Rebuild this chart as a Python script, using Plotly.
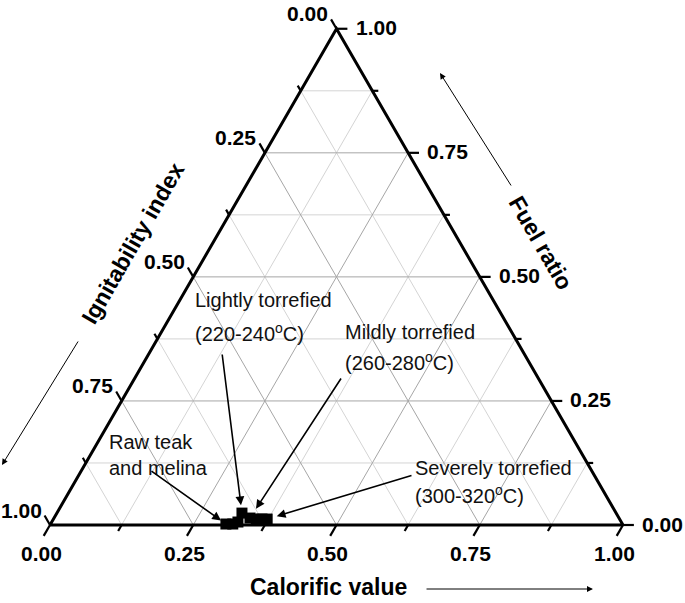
import math
import plotly.graph_objects as go

# ---------------- data (ternary fractions) ----------------
sample_groups = ["Raw", "Raw", "Lightly", "Lightly", "Mildly", "Mildly", "Severely", "Severely"]
fuel_ratio = [0.002, 0.002, 0.006, 0.024, 0.014, 0.012, 0.012, 0.012]
calorific_value = [0.306, 0.318, 0.325, 0.323, 0.342, 0.354, 0.364, 0.373]
ignitability_index = [0.692, 0.680, 0.669, 0.653, 0.644, 0.634, 0.624, 0.615]

major_ticks = [0.0, 0.25, 0.5, 0.75, 1.0]
major_tick_labels = ["0.00", "0.25", "0.50", "0.75", "1.00"]
minor_ticks = [0.125, 0.375, 0.625, 0.875]
grid_values = [0.125, 0.25, 0.375, 0.5, 0.625, 0.75, 0.875]

axis_titles = ["Ignitability index", "Fuel ratio", "Calorific value"]

# ---------------- helpers ----------------
H = math.sqrt(3) / 2
FONT = "Liberation Sans, Arial, Helvetica, sans-serif"


def xy(fuel, cal):
    """ternary (fuel ratio = top, calorific = bottom-right) -> cartesian"""
    return cal + fuel / 2.0, fuel * H


fig = go.Figure()


def add_lines(segs, color, width):
    xs, ys = [], []
    for (p, q) in segs:
        xs += [p[0], q[0], None]
        ys += [p[1], q[1], None]
    fig.add_trace(go.Scatter(x=xs, y=ys, mode="lines", hoverinfo="skip",
                             line=dict(color=color, width=width)))


# grid lines
minor_segs, major_segs = [], []
for v in grid_values:
    segs = major_segs if v in major_ticks else minor_segs
    segs.append((xy(v, 0), xy(v, 1 - v)))          # constant fuel ratio
    segs.append((xy(0, v), xy(1 - v, v)))          # constant calorific value
    segs.append((xy(1 - v, 0), xy(0, 1 - v)))      # constant ignitability index
add_lines(minor_segs, "#d4d4d4", 1)
add_lines(major_segs, "#a6a6a6", 1)

# ticks
tick_segs = []
dir_bottom = (-0.5 * 0.022, -H * 0.022)
dir_left = (-0.5 * 0.019, H * 0.019)
dir_right = (0.019, 0.0)
for v in major_ticks + minor_ticks:
    s = 1.0 if v in major_ticks else 0.55
    p = xy(0, v)
    tick_segs.append((p, (p[0] + dir_bottom[0] * s, p[1] + dir_bottom[1] * s)))
    p = xy(1 - v, 0)
    tick_segs.append((p, (p[0] + dir_left[0] * s, p[1] + dir_left[1] * s)))
    p = xy(v, 1 - v)
    tick_segs.append((p, (p[0] + dir_right[0] * s, p[1] + dir_right[1] * s)))
add_lines(tick_segs, "black", 2.2)

# triangle frame
corners = [xy(0, 0), xy(0, 1), xy(1, 0), xy(0, 0)]
fig.add_trace(go.Scatter(x=[c[0] for c in corners], y=[c[1] for c in corners],
                         mode="lines", hoverinfo="skip",
                         line=dict(color="black", width=3)))

# data points
pts = [xy(f, c) for f, c in zip(fuel_ratio, calorific_value)]
fig.add_trace(go.Scatter(
    x=[p[0] for p in pts], y=[p[1] for p in pts], mode="markers",
    text=sample_groups,
    customdata=list(zip(fuel_ratio, calorific_value, ignitability_index)),
    marker=dict(symbol="square", size=11, color="black", line=dict(width=0))))

annotations = []
tick_font = dict(family=FONT, size=21, color="black", weight="bold")
for v, lab in zip(major_ticks, major_tick_labels):
    p = xy(0, v)
    annotations.append(dict(x=p[0], y=p[1], text=f"<b>{lab}</b>", showarrow=False,
                            xanchor="center", yanchor="middle", xshift=-9, yshift=-28,
                            font=tick_font))
    p = xy(1 - v, 0)
    annotations.append(dict(x=p[0], y=p[1], text=f"<b>{lab}</b>", showarrow=False,
                            xanchor="center", yanchor="middle", xshift=-29, yshift=15,
                            font=tick_font))
    p = xy(v, 1 - v)
    annotations.append(dict(x=p[0], y=p[1], text=f"<b>{lab}</b>", showarrow=False,
                            xanchor="left", yanchor="middle", xshift=17, yshift=1,
                            font=tick_font))

# axis titles
title_font = dict(family=FONT, size=23, color="black")
annotations.append(dict(x=0.1449, y=0.4921, text=f"<b>{axis_titles[0]}</b>", textangle=-60,
                        showarrow=False, font=title_font))
annotations.append(dict(x=0.8569, y=0.4921, text=f"<b>{axis_titles[1]}</b>", textangle=60,
                        showarrow=False, font=title_font))
annotations.append(dict(x=0.4869, y=-0.1082, text=f"<b>{axis_titles[2]}</b>",
                        showarrow=False, font=title_font))
# axis direction arrows (tail x, tail y, head x, head y)
for (tx, ty, hx, hy) in [(0.0506, 0.3229, -0.0838, 0.1047),
                         (0.8063, 0.5899, 0.6806, 0.7888),
                         (0.6545, -0.1117, 0.9476, -0.1117)]:
    annotations.append(dict(x=hx, y=hy, ax=tx, ay=ty, xref="x", yref="y",
                            axref="x", ayref="y", showarrow=True, text="",
                            arrowhead=2, arrowsize=1.2, arrowwidth=1, arrowcolor="black"))

# group labels
lab_font = dict(family=FONT, size=20, color="#111111")
group_labels = [
    ("Lightly torrefied", 0.2496, 0.3927),
    ("(220-240<sup>o</sup>C)", 0.2496, 0.3368),
    ("Mildly torrefied", 0.5113, 0.3368),
    ("(260-280<sup>o</sup>C)", 0.5113, 0.2845),
    ("Raw teak", 0.0995, 0.1449),
    ("and melina", 0.0995, 0.0995),
    ("Severely torrefied", 0.6335, 0.0995),
    ("(300-320<sup>o</sup>C)", 0.6335, 0.0541),
]
for t, x, y in group_labels:
    annotations.append(dict(x=x, y=y, text=t, showarrow=False, xanchor="left",
                            yanchor="middle", font=lab_font))

# pointer arrows: tail position -> data point index
pointers = [((0.1745, 0.0960), 0, 6),
            ((0.3002, 0.3002), 3, 8),
            ((0.5096, 0.2583), 4, 11),
            ((0.6335, 0.0873), 7, 10)]
for (tail, idx, so) in pointers:
    annotations.append(dict(x=pts[idx][0], y=pts[idx][1], ax=tail[0], ay=tail[1],
                            xref="x", yref="y", axref="x", ayref="y", showarrow=True,
                            text="", arrowhead=2, arrowsize=1.1, arrowwidth=1.6,
                            arrowcolor="black", standoff=so))

S = 573.0      # pixels per unit side
OX = 50.0      # pixel of x = 0 within the figure
OY = 525.0     # pixel of y = 0 (bottom edge) within the figure
W, HT = 685, 603
fig.update_layout(
    width=W, height=HT,
    margin=dict(l=0, r=0, t=0, b=0),
    paper_bgcolor="white", plot_bgcolor="white",
    showlegend=False,
    xaxis=dict(range=[-OX / S, (W - OX) / S], visible=False, fixedrange=True),
    yaxis=dict(range=[-(HT - OY) / S, OY / S], visible=False, fixedrange=True),
    annotations=annotations,
)

fig.write_html(
    "out.html",
    config={"displayModeBar": False},
    post_script="document.body.style.margin='0';document.body.style.padding='0';",
)
